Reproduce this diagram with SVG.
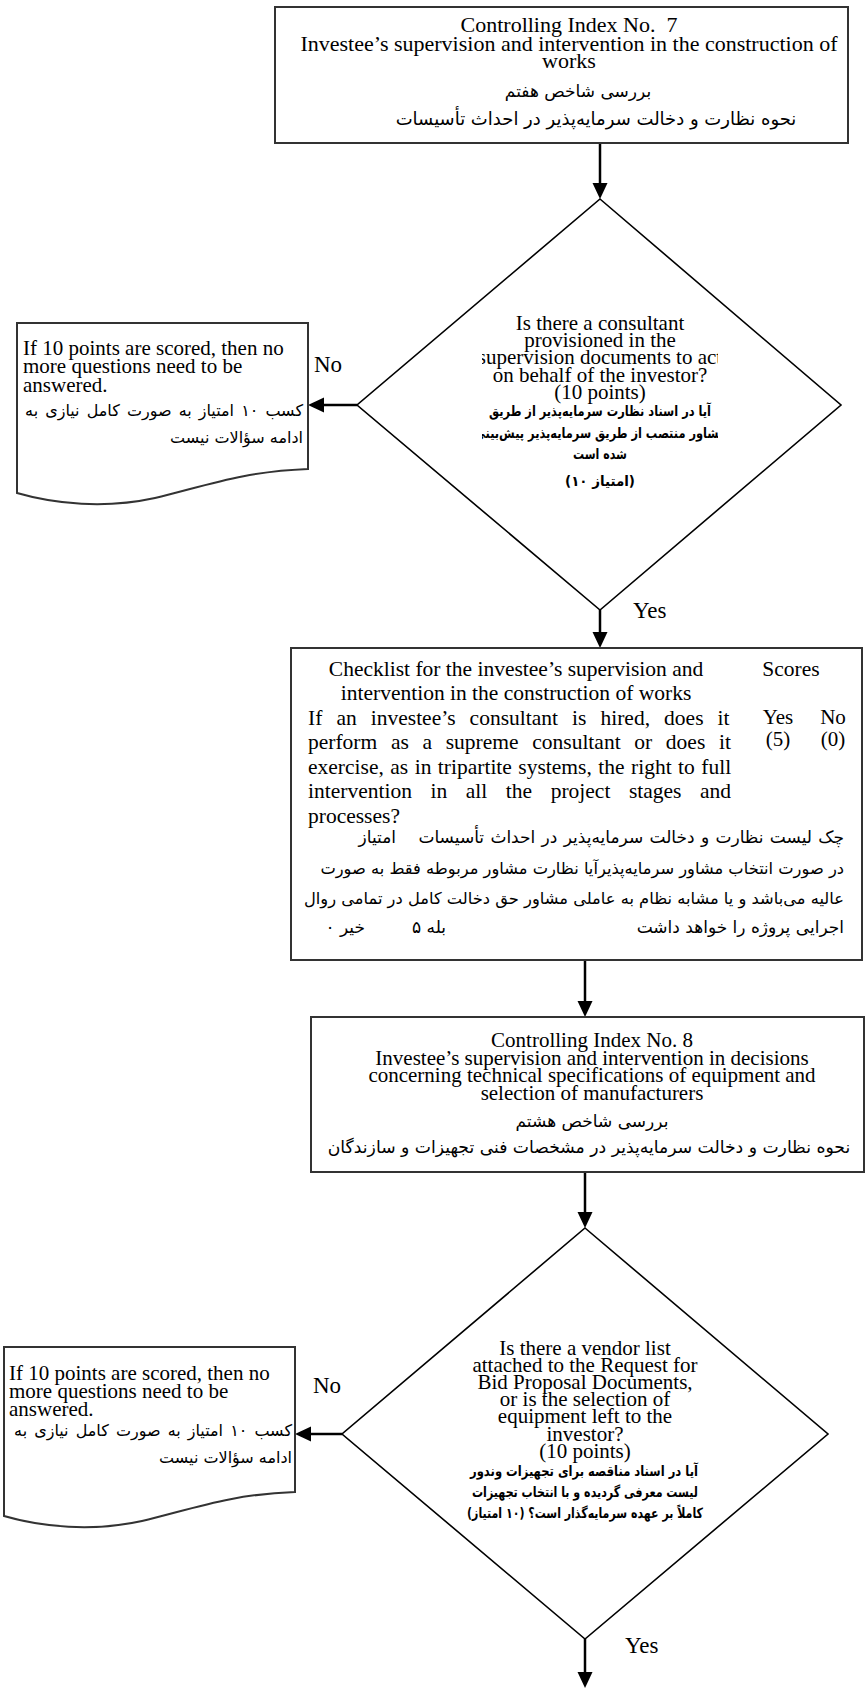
<svg xmlns="http://www.w3.org/2000/svg" width="866" height="1688" viewBox="0 0 866 1688">
<style>
.en{font-family:"Liberation Serif","Times New Roman",serif;font-size:21px;fill:#000}
.fa{font-family:"DejaVu Sans",sans-serif;font-size:16px;fill:#000;direction:rtl;unicode-bidi:embed}
.fab{font-family:"DejaVu Sans",sans-serif;font-size:14px;font-weight:bold;fill:#000;direction:rtl;unicode-bidi:embed}
.box{fill:#fff;stroke:#333;stroke-width:2}
.dia{fill:#fff;stroke:#000;stroke-width:1.6}
.lbl{font-family:"Liberation Serif","Times New Roman",serif;font-size:23px;fill:#000}
.con{stroke:#000;stroke-width:2.5;fill:none;marker-end:url(#ah)}
.c{text-anchor:middle}
.ck{font-size:21.5px}
.t22{font-size:22px}
.f17{font-size:17px}
.f18{font-size:18px}
.f163{font-size:16.3px}
</style>
<defs>
<marker id="ah" markerUnits="userSpaceOnUse" markerWidth="16" markerHeight="16" refX="0" refY="7.5" orient="auto">
<path d="M0,0 L16,7.5 L0,15 Z" fill="#000"/>
</marker>
<clipPath id="clipD1"><rect x="482" y="300" width="236" height="200"/></clipPath>
</defs>

<g id="connectors">
<path class="con" d="M600,143 V183"/>
<path class="con" d="M357,405 H324"/>
<path class="con" d="M600,610 V632"/>
<path class="con" d="M585,960 V1001"/>
<path class="con" d="M585,1172 V1212"/>
<path class="con" d="M342,1434 H311"/>
<path class="con" d="M585,1639 V1672"/>
</g>

<g id="index7">
<rect class="box" x="275" y="7" width="573" height="136"/>
<text class="en t22 c" x="569" y="32" xml:space="preserve">Controlling Index No.  7</text>
<text class="en t22 c" x="569" y="51">Investee’s supervision and intervention in the construction of</text>
<text class="en t22 c" x="569" y="68">works</text>
<text class="fa f17 c" x="578" y="97">بررسی شاخص هفتم</text>
<text class="fa f18 c" x="596" y="125">نحوه نظارت و دخالت سرمایه‌پذیر در احداث تأسیسات</text>
</g>

<g id="decision1">
<polygon class="dia" points="600,199 841,405 600,610 357,405"/>
<text class="en c" x="600" y="330">Is there a consultant</text>
<text class="en c" x="600" y="347">provisioned in the</text>
<text class="en c" x="600" y="364" clip-path="url(#clipD1)">supervision documents to act</text>
<text class="en c" x="600" y="382">on behalf of the investor?</text>
<text class="en c" x="600" y="399">(10 points)</text>
<text class="fab c" x="600" y="416" textLength="222" lengthAdjust="spacingAndGlyphs">آیا در اسناد نظارت سرمایه‌پذیر از طریق</text>
<text class="fab c" x="600" y="438" textLength="252" lengthAdjust="spacingAndGlyphs" clip-path="url(#clipD1)">مشاور منتصب از طریق سرمایه‌پذیر پیش‌بینی</text>
<text class="fab c" x="600" y="459" textLength="54" lengthAdjust="spacingAndGlyphs">شده است</text>
<text class="fab c" x="600" y="486" textLength="70" lengthAdjust="spacingAndGlyphs" style="direction:ltr">(۱۰ امتیاز)</text>
</g>

<g id="label-no1"><text class="lbl" x="314" y="372">No</text></g>
<g id="label-yes1"><text class="lbl" x="633" y="618">Yes</text></g>

<g id="stop1">
<path class="box" d="M17,323 H308 V469 C245,471 205,486 155,498 C105,509 55,504 17,493 Z"/>
<text class="en" x="23" y="355">If 10 points are scored, then no</text>
<text class="en" x="23" y="373">more questions need to be</text>
<text class="en" x="23" y="392">answered.</text>
<text class="fa" x="303" y="416" word-spacing="2">کسب ۱۰ امتیاز به صورت کامل نیازی به</text>
<text class="fa" x="303" y="443">ادامه سؤالات نیست</text>
</g>

<g id="checklist">
<rect class="box" x="291" y="648" width="571" height="312"/>
<text class="en ck c" x="516" y="676">Checklist for the investee’s supervision and</text>
<text class="en ck c" x="516" y="700">intervention in the construction of works</text>
<text class="en ck" x="308" y="725" word-spacing="8.7">If an investee’s consultant is hired, does it</text>
<text class="en ck" x="308" y="749" word-spacing="8.3">perform as a supreme consultant or does it</text>
<text class="en ck" x="308" y="774" word-spacing="1.1">exercise, as in tripartite systems, the right to full</text>
<text class="en ck" x="308" y="798" word-spacing="13.2">intervention in all the project stages and</text>
<text class="en ck" x="308" y="823">processes?</text>
<text class="en ck c" x="791" y="676">Scores</text>
<text class="en c" x="778" y="724">Yes</text>
<text class="en c" x="833" y="724">No</text>
<text class="en c" x="778" y="746">(5)</text>
<text class="en c" x="833" y="746">(0)</text>
<text class="fa f17" x="844" y="843" word-spacing="0.9">چک لیست نظارت و دخالت سرمایه‌پذیر در احداث تأسیسات</text>
<text class="fa f17" x="396" y="843">امتیاز</text>
<text class="fa f163" x="844" y="874">در صورت انتخاب مشاور سرمایه‌پذیرآیا نظارت مشاور مربوطه فقط به صورت</text>
<text class="fa f163" x="844" y="904">عالیه می‌باشد و یا مشابه نظام به عاملی مشاور حق دخالت کامل در تمامی روال</text>
<text class="fa f17" x="844" y="933">اجرایی پروژه را خواهد داشت</text>
<text class="fa f17" x="446" y="933">بله  ۵</text>
<text class="fa f17" x="365" y="933">خیر ۰</text>
</g>

<g id="index8">
<rect class="box" x="311" y="1017" width="553" height="155"/>
<text class="en c" x="592" y="1047">Controlling Index No. 8</text>
<text class="en c" x="592" y="1065">Investee’s supervision and intervention in decisions</text>
<text class="en c" x="592" y="1082">concerning technical specifications of equipment and</text>
<text class="en c" x="592" y="1100">selection of manufacturers</text>
<text class="fa f17 c" x="592" y="1127">بررسی شاخص هشتم</text>
<text class="fa c" x="589" y="1153" style="font-size:17.2px">نحوه نظارت و دخالت سرمایه‌پذیر در مشخصات فنی تجهیزات و سازندگان</text>
</g>

<g id="decision2">
<polygon class="dia" points="585,1228 828,1434 585,1639 342,1434"/>
<text class="en c" x="585" y="1355">Is there a vendor list</text>
<text class="en c" x="585" y="1372">attached to the Request for</text>
<text class="en c" x="585" y="1389">Bid Proposal Documents,</text>
<text class="en c" x="585" y="1406">or is the selection of</text>
<text class="en c" x="585" y="1423">equipment left to the</text>
<text class="en c" x="585" y="1441">investor?</text>
<text class="en c" x="585" y="1458">(10 points)</text>
<text class="fab c" x="584" y="1476" textLength="228" lengthAdjust="spacingAndGlyphs">آیا در اسناد مناقصه برای تجهیزات وندور</text>
<text class="fab c" x="585" y="1497" textLength="226" lengthAdjust="spacingAndGlyphs">لیست معرفی گردیده و با انتخاب تجهیزات</text>
<text class="fab c" x="585" y="1518" textLength="236" lengthAdjust="spacingAndGlyphs">کاملاً بر عهده سرمایه‌گذار است؟ (۱۰ امتیاز)</text>
</g>

<g id="label-no2"><text class="lbl" x="313" y="1393">No</text></g>
<g id="label-yes2"><text class="lbl" x="625" y="1653">Yes</text></g>

<g id="stop2">
<path class="box" d="M4,1347 H295 V1492 C232,1494 192,1509 142,1521 C92,1532 42,1527 4,1516 Z"/>
<text class="en" x="9" y="1380">If 10 points are scored, then no</text>
<text class="en" x="9" y="1398">more questions need to be</text>
<text class="en" x="9" y="1416">answered.</text>
<text class="fa" x="292" y="1436" word-spacing="2">کسب ۱۰ امتیاز به صورت کامل نیازی به</text>
<text class="fa" x="292" y="1463">ادامه سؤالات نیست</text>
</g>
</svg>
